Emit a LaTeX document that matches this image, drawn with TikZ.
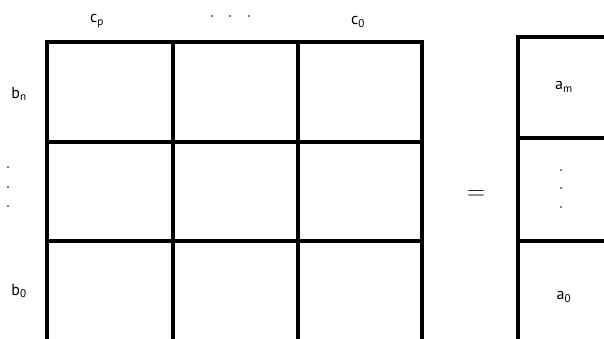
\documentclass[tikz,border=0pt]{standalone}
\usepackage{fontspec}
\setmainfont{PT Sans}
\begin{document}
\begin{tikzpicture}[x=1pt,y=-1pt,
  gridline/.style={line width=3.2pt, line cap=rect},
  lab/.style={font=\fontsize{16}{16}\selectfont, inner sep=0pt},
  dotmark/.style={circle, fill=black, inner sep=0pt, minimum size=1.8pt}]
\useasboundingbox (0,0) rectangle (604,339);
\clip (0,0) rectangle (604,339);
% left grid
\foreach \x in {47,173,298,422}{\draw[gridline] (\x,42) -- (\x,350);}
\foreach \y in {42,142,241}{\draw[gridline] (47,\y) -- (422,\y);}
% right column
\draw[gridline] (518,37) -- (518,350);
\foreach \y in {37,138,241}{\draw[gridline] (518,\y) -- (620,\y);}
% column labels
\node[lab] (cp) at (97,21) {c\textsubscript{p}};
\node[lab] (c0) at (358,22) {c\textsubscript{0}};
\node[dotmark] (hd1) at (212,16) {};
\node[dotmark] (hd2) at (230,16) {};
\node[dotmark] (hd3) at (249,16) {};
% row labels
\node[lab] (bn) at (19,94) {b\textsubscript{n}};
\node[lab] (b0) at (19,291) {b\textsubscript{0}};
\node[dotmark] (vd1) at (8,167) {};
\node[dotmark] (vd2) at (8,187) {};
\node[dotmark] (vd3) at (8,206) {};
% equals
\node[inner sep=0pt, font=\fontsize{30}{30}\selectfont] (eq) at (476,195) {$=$};
% right labels
\node[lab] (am) at (564,87) {a\textsubscript{m}};
\node[lab] (a0) at (564,297) {a\textsubscript{0}};
\node[dotmark] (rd1) at (561,170) {};
\node[dotmark] (rd2) at (561,188) {};
\node[dotmark] (rd3) at (561,207) {};
\end{tikzpicture}
\end{document}
